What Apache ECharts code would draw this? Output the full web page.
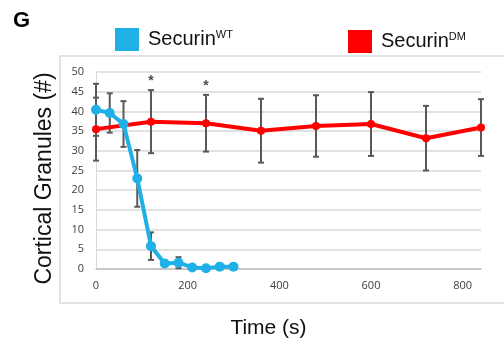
<!DOCTYPE html>
<html>
<head>
<meta charset="utf-8">
<script src="https://cdn.jsdelivr.net/npm/echarts@6/dist/echarts.min.js"></script>
<style>
  html, body { margin: 0; padding: 0; background: #fff; }
  #chart { width: 504px; height: 339px; }
</style>
</head>
<body>
<div id="chart"></div>
<script>
// Securin WT: time (s), mean, error
const wtTime = [0, 30, 60, 90, 120, 150, 180, 210, 240, 270, 300]
const wtMean = [40.4, 39.6, 36.8, 23.0, 5.8, 1.4, 1.6, 0.4, 0.2, 0.6, 0.6]
const wtErr = [6.6, 5.0, 5.8, 7.2, 3.5, 0, 1.4, 0, 0, 0, 0]

// Securin DM
const dmTime = [0, 120, 240, 360, 480, 600, 720, 840]
const dmMean = [35.5, 37.4, 37.0, 35.1, 36.3, 36.8, 33.2, 35.9]
const dmErr = [8.0, 8.0, 7.2, 8.1, 7.8, 8.1, 8.2, 7.2]

// significance stars
const starPos = [[120, 47.6], [240, 46.4]]

const xTicks = [0, 200, 400, 600, 800]

const chart = echarts.init(document.getElementById('chart'))

function errData(t, m, e) {
  return t.map((x, i) => [x, m[i] - e[i], m[i] + e[i]]).filter((d, i) => e[i] > 0)
}

function renderErr(params, api) {
  const lo = api.coord([api.value(0), api.value(1)])
  const hi = api.coord([api.value(0), api.value(2)])
  const w = 3
  const style = { stroke: '#595959', lineWidth: 2 }
  return {
    type: 'group',
    children: [
      { type: 'line', shape: { x1: hi[0], y1: hi[1], x2: lo[0], y2: lo[1] }, style },
      { type: 'line', shape: { x1: hi[0] - w, y1: hi[1], x2: hi[0] + w, y2: hi[1] }, style },
      { type: 'line', shape: { x1: lo[0] - w, y1: lo[1], x2: lo[0] + w, y2: lo[1] }, style }
    ]
  }
}

const legendRich = {
  a: { fontSize: 20, fontFamily: 'Liberation Sans', color: '#111' },
  s: { fontSize: 11, fontFamily: 'Liberation Sans', color: '#111', verticalAlign: 'top', padding: [0, 0, 10, 0] }
}
const legendFmt = name => '{a|Securin}{s|' + name.replace('Securin', '') + '}'

chart.setOption({
  animation: false,
  title: {
    text: 'G',
    left: 13,
    top: 10,
    padding: 0,
    textStyle: { fontSize: 22, fontWeight: 'bold', fontFamily: 'Liberation Sans', color: '#000' }
  },
  legend: [
    {
      data: ['SecurinWT'], left: 115, top: 28, icon: 'rect', padding: 0,
      itemWidth: 24, itemHeight: 23, itemGap: 0,
      formatter: legendFmt, textStyle: { rich: legendRich, padding: [0, 0, 0, 4] }
    },
    {
      data: ['SecurinDM'], left: 348, top: 30, icon: 'rect', padding: 0,
      itemWidth: 24, itemHeight: 23, itemGap: 0,
      formatter: legendFmt, textStyle: { rich: legendRich, padding: [0, 0, 0, 4] }
    }
  ],
  graphic: [{
    type: 'rect',
    shape: { x: 60, y: 56, width: 460, height: 247 },
    style: { fill: 'none', stroke: '#d9d9d9', lineWidth: 1.5 },
    silent: true,
    z: -1
  }],
  grid: { left: 96, right: 23, top: 72, bottom: 70, outerBoundsMode: 'none' },
  xAxis: {
    type: 'value',
    min: 0,
    max: 840,
    interval: 200,
    name: 'Time (s)',
    nameLocation: 'middle',
    nameGap: 49,
    nameTextStyle: { fontSize: 21, fontFamily: 'Liberation Sans', color: '#111', padding: [0, 40, 0, 0] },
    axisLine: { lineStyle: { color: '#bfbfbf', width: 1.5 } },
    axisTick: { show: false },
    splitLine: { show: false },
    axisLabel: {
      color: '#404040', fontSize: 11, fontFamily: 'Open Sans', margin: 11,
      formatter: v => xTicks.includes(v) ? String(v) : ''
    }
  },
  yAxis: {
    type: 'value',
    min: 0,
    max: 50,
    interval: 5,
    name: 'Cortical Granules (#)',
    nameLocation: 'middle',
    nameGap: 40,
    nameTextStyle: { fontSize: 23, fontFamily: 'Liberation Sans', color: '#111', padding: [0, 16, 0, 0] },
    axisLine: { show: true, lineStyle: { color: '#d9d9d9', width: 1 } },
    axisTick: { show: false },
    splitLine: { lineStyle: { color: '#d9d9d9', width: 1.5 } },
    axisLabel: { color: '#404040', fontSize: 11, fontFamily: 'Open Sans', margin: 12 }
  },
  series: [
    {
      type: 'custom',
      renderItem: renderErr,
      data: errData(dmTime, dmMean, dmErr),
      z: 1,
      silent: true
    },
    {
      type: 'custom',
      renderItem: renderErr,
      data: errData(wtTime, wtMean, wtErr),
      z: 1,
      silent: true
    },
    {
      name: 'SecurinDM',
      type: 'line',
      data: dmTime.map((t, i) => [t, dmMean[i]]),
      symbol: 'circle',
      symbolSize: 8,
      lineStyle: { color: '#ff0000', width: 4 },
      itemStyle: { color: '#ff0000' },
      z: 3
    },
    {
      name: 'SecurinWT',
      type: 'line',
      data: wtTime.map((t, i) => [t, wtMean[i]]),
      symbol: 'circle',
      symbolSize: 10,
      lineStyle: { color: '#1fb0e8', width: 4 },
      itemStyle: { color: '#1fb0e8' },
      z: 4
    },
    {
      type: 'scatter',
      data: starPos,
      symbolSize: 0,
      silent: true,
      label: {
        show: true, formatter: '*', position: 'inside',
        fontSize: 14, fontWeight: 'bold', color: '#222', fontFamily: 'Liberation Sans'
      }
    }
  ]
})
</script>
</body>
</html>
